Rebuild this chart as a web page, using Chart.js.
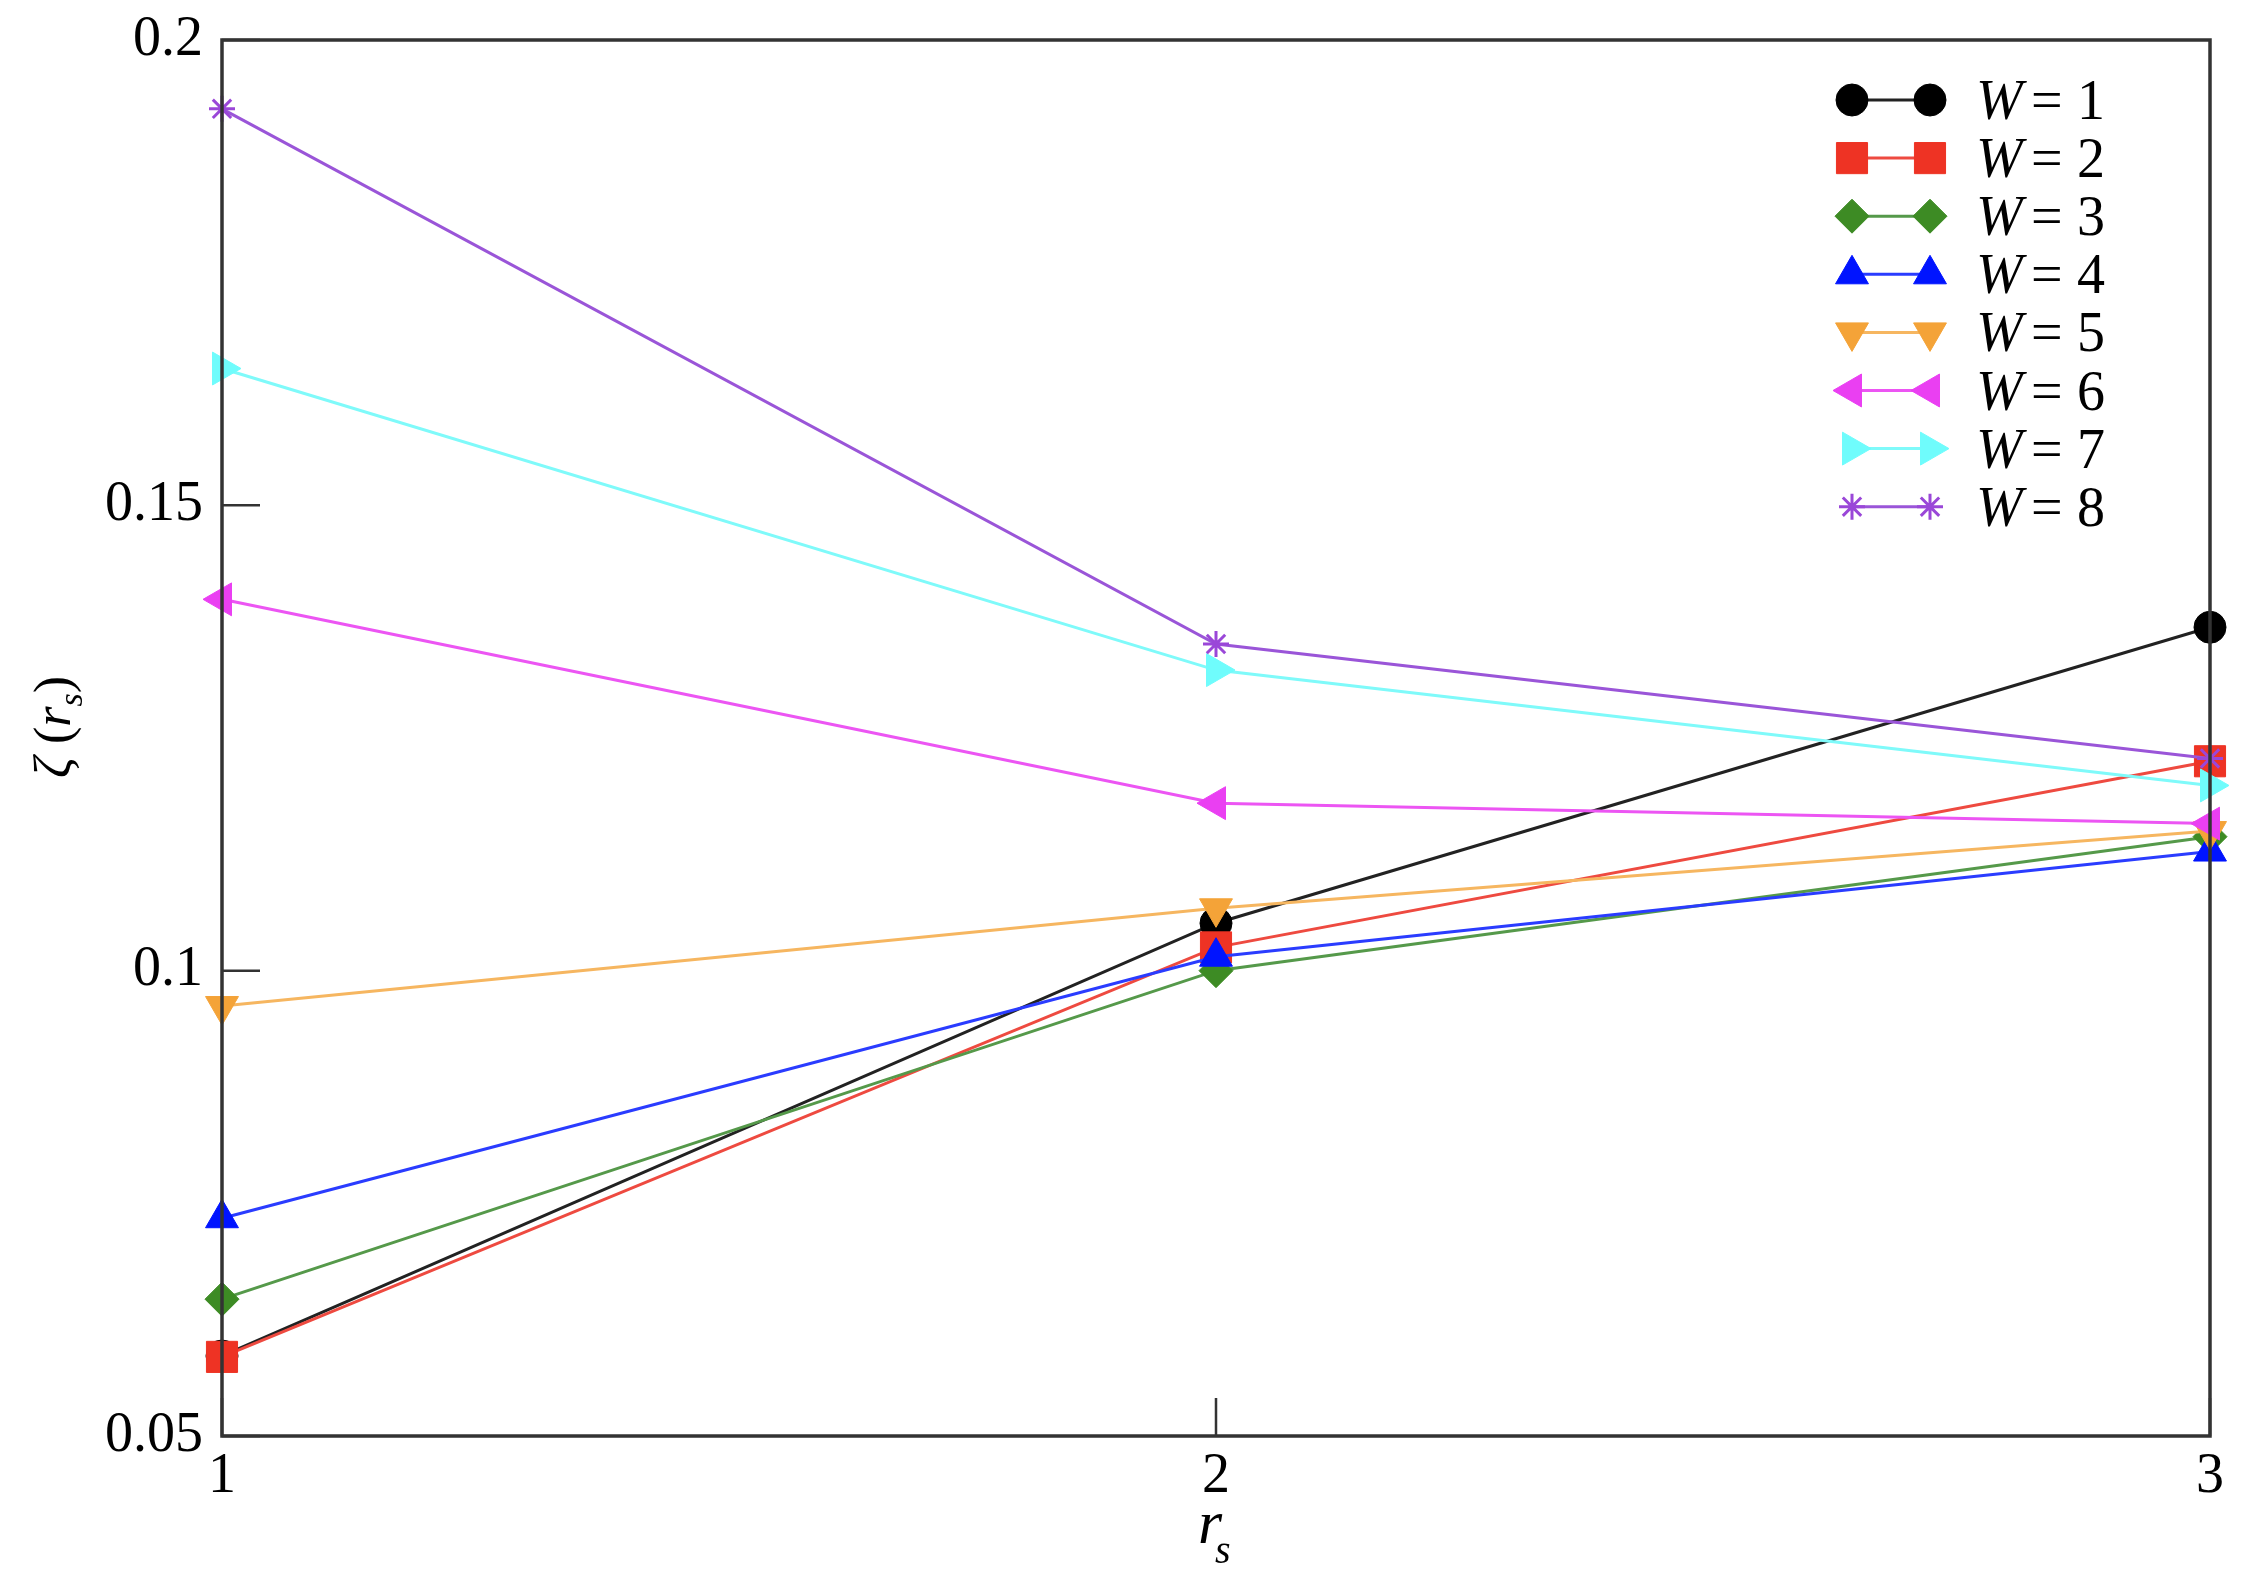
<!DOCTYPE html>
<html>
<head>
<meta charset="utf-8">
<script src="https://cdn.jsdelivr.net/npm/chart.js@4.4.1/dist/chart.umd.min.js"></script>
<style>
  html, body { margin: 0; padding: 0; background: #fff; }
  #wrap { width: 2247px; height: 1578px; }
</style>
</head>
<body>
<div id="wrap"><canvas id="zeta-chart"></canvas></div>
<script>
// r_s positions and zeta(r_s) values
const rsValues = [1, 2, 3];
const w1 = [0.0586, 0.1051, 0.1369];
const w2 = [0.0585, 0.1025, 0.1225];
const w3 = [0.0647, 0.1000, 0.1144];
const w4 = [0.0734, 0.1015, 0.1128];
const w5 = [0.0962, 0.1067, 0.1150];
const w6 = [0.1399, 0.1180, 0.1158];
const w7 = [0.1647, 0.1323, 0.1199];
const w8 = [0.1926, 0.1351, 0.1228];
const seriesLabels = ['1', '2', '3', '4', '5', '6', '7', '8'];
const yTicks = [0.05, 0.1, 0.15, 0.2];
const xTicks = [1, 2, 3];

const SERIF = '"Liberation Serif", "DejaVu Serif", serif';
const FRAME = '#333';

const styles = [
    { color: '#000000', line: '#222222', style: 'circle', radius: 16, rot: 0 },
    { color: '#ee3324', line: '#ee4a40', style: 'rect', radius: 22, rot: 0 },
    { color: '#3d8b24', line: '#55994a', style: 'rectRot', radius: 17, rot: 0 },
    { color: '#0014ff', line: '#2a3cff', style: 'triangle', radius: 19, rot: 0 },
    { color: '#f4a338', line: '#f6b660', style: 'triangle', radius: 19, rot: 180 },
    { color: '#ea3ff2', line: '#ec55f3', style: 'triangle', radius: 19, rot: -90 },
    { color: '#6ffcfc', line: '#7ffafa', style: 'triangle', radius: 19, rot: 90 },
    { color: '#9a47d8', line: '#9a55d8', style: 'star', radius: 13, rot: 0 }
];

const allSeries = [w1, w2, w3, w4, w5, w6, w7, w8];

const datasets = allSeries.map(function (values, i) {
    const s = styles[i];
    return {
        label: 'W = ' + seriesLabels[i],
        data: values.map(function (v, k) { return { x: rsValues[k], y: v }; }),
        borderColor: s.line,
        borderWidth: 3,
        backgroundColor: s.color,
        pointStyle: s.style,
        pointRadius: s.radius,
        pointHoverRadius: s.radius,
        pointRotation: s.rot,
        pointBackgroundColor: s.color,
        pointBorderColor: s.color,
        pointBorderWidth: s.style === 'star' ? 3 : 1,
        tension: 0,
        clip: false,
        order: 7 - i
    };
});

function drawMarker(ctx, s, x, y) {
    ctx.save();
    ctx.fillStyle = s.color;
    ctx.strokeStyle = s.color;
    ctx.lineWidth = s.style === 'star' ? 3 : 1;
    Chart.helpers.drawPoint(ctx, {
        pointStyle: s.style,
        rotation: s.rot,
        radius: s.radius,
        borderWidth: ctx.lineWidth
    }, x, y);
    ctx.restore();
}

const framePlugin = {
    id: 'frameAndText',
    afterDatasetsDraw(chart) {
        const ctx = chart.ctx;
        const area = chart.chartArea;
        const xs = chart.scales.x;
        const ys = chart.scales.y;

        // box around the plot
        ctx.save();
        ctx.strokeStyle = FRAME;
        ctx.lineWidth = 3.5;
        ctx.strokeRect(area.left, area.top, area.right - area.left, area.bottom - area.top);

        // inward ticks
        ctx.lineWidth = 2.5;
        ctx.beginPath();
        yTicks.forEach(function (v) {
            const py = ys.getPixelForValue(v);
            ctx.moveTo(area.left, py);
            ctx.lineTo(area.left + 38, py);
        });
        xTicks.forEach(function (v) {
            const px = xs.getPixelForValue(v);
            ctx.moveTo(px, area.bottom);
            ctx.lineTo(px, area.bottom - 38);
        });
        ctx.stroke();
        ctx.restore();

        // legend
        ctx.save();
        const legendX0 = 1852, legendX1 = 1930, legendTop = 100, rowGap = 58.1;
        styles.forEach(function (s, i) {
            const y = legendTop + i * rowGap;
            ctx.strokeStyle = s.line;
            ctx.lineWidth = 3;
            ctx.beginPath();
            ctx.moveTo(legendX0, y);
            ctx.lineTo(legendX1, y);
            ctx.stroke();
            drawMarker(ctx, s, legendX0, y);
            drawMarker(ctx, s, legendX1, y);

            ctx.fillStyle = '#000';
            ctx.textBaseline = 'alphabetic';
            ctx.textAlign = 'left';
            ctx.font = 'italic 56px ' + SERIF;
            ctx.fillText('W', 1976, y + 19);
            ctx.font = '56px ' + SERIF;
            ctx.fillText('=', 2031, y + 19);
            ctx.fillText(seriesLabels[i], 2077, y + 19);
        });
        ctx.restore();

        // x title: r_s
        ctx.save();
        ctx.fillStyle = '#000';
        ctx.textBaseline = 'alphabetic';
        ctx.textAlign = 'left';
        ctx.font = 'italic 62px ' + SERIF;
        ctx.fillText('r', 1198, 1543);
        ctx.font = 'italic 40px ' + SERIF;
        ctx.fillText('s', 1215, 1563);
        ctx.restore();

        // y title: zeta (r_s), rotated
        ctx.save();
        ctx.translate(70, 727);
        ctx.rotate(-Math.PI / 2);
        ctx.fillStyle = '#000';
        ctx.textBaseline = 'alphabetic';
        ctx.textAlign = 'left';
        const parts = [
            { t: '\u03B6', f: 'italic 52px ' + SERIF, dy: 0 },
            { t: ' (', f: '52px ' + SERIF, dy: 0 },
            { t: 'r', f: 'italic 52px ' + SERIF, dy: 0 },
            { t: 's', f: 'italic 34px ' + SERIF, dy: 12 },
            { t: ')', f: '52px ' + SERIF, dy: 0 }
        ];
        let total = 0;
        parts.forEach(function (p) {
            ctx.font = p.f;
            p.w = ctx.measureText(p.t).width;
            total += p.w;
        });
        let cx = -total / 2;
        parts.forEach(function (p) {
            ctx.font = p.f;
            ctx.fillText(p.t, cx, p.dy);
            cx += p.w;
        });
        ctx.restore();
    }
};

new Chart('zeta-chart', {
    type: 'line',
    data: { datasets: datasets },
    options: {
        responsive: true,
        maintainAspectRatio: false,
        animation: false,
        events: [],
        layout: { padding: { top: 40, right: 37, left: 0, bottom: 0 } },
        plugins: {
            legend: { display: false },
            tooltip: { enabled: false }
        },
        scales: {
            x: {
                type: 'linear',
                min: 1,
                max: 3,
                afterFit: function (scale) {
                    scale.height = 142;
                    scale.paddingLeft = 0;
                    scale.paddingRight = 0;
                },
                afterBuildTicks: function (scale) {
                    scale.ticks = xTicks.map(function (v) { return { value: v }; });
                },
                grid: { display: false, drawTicks: false },
                border: { display: false },
                ticks: {
                    padding: 8,
                    color: '#000',
                    maxRotation: 0,
                    autoSkip: false,
                    font: { family: SERIF, size: 56 },
                    callback: function (v) { return String(v); }
                }
            },
            y: {
                type: 'linear',
                min: 0.05,
                max: 0.2,
                afterFit: function (scale) {
                    scale.width = 222;
                    scale.paddingTop = 0;
                    scale.paddingBottom = 0;
                },
                afterBuildTicks: function (scale) {
                    scale.ticks = yTicks.map(function (v) { return { value: v }; });
                },
                grid: { display: false, drawTicks: false },
                border: { display: false },
                ticks: {
                    padding: 19,
                    color: '#000',
                    autoSkip: false,
                    font: { family: SERIF, size: 56 },
                    callback: function (v) { return String(Math.round(v * 100) / 100); }
                }
            }
        }
    },
    plugins: [framePlugin]
});
</script>
</body>
</html>
